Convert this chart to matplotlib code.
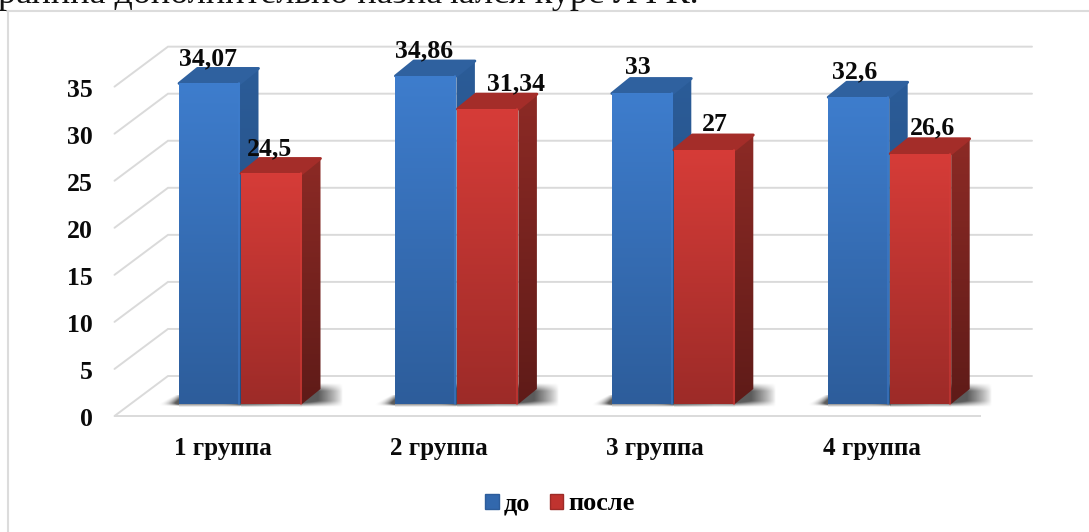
import numpy as np
import matplotlib
matplotlib.use("Agg")
import matplotlib.pyplot as plt
from matplotlib.patches import Polygon, Patch
from matplotlib.lines import Line2D
from matplotlib.colors import LinearSegmentedColormap

categories = ["1 группа", "2 группа", "3 группа", "4 группа"]
before = [34.07, 34.86, 33, 32.6]
after = [24.5, 31.34, 27, 26.6]
before_labels = ["34,07", "34,86", "33", "32,6"]
after_labels = ["24,5", "31,34", "27", "26,6"]
series_names = ["до", "после"]
y_ticks = [0, 5, 10, 15, 20, 25, 30, 35]
caption = "рапина дополнительно назначался курс ЛФК."

W, H = 1089, 532
PX_X = 216.4   # pixels per category
PX_Y = 9.41    # pixels per value unit
X0 = 240.5     # pixel of first category centre
Y0 = 404       # pixel of value 0 on the bars' front plane

# hand placement of the data labels (pixels)
before_shift_x = [-2, -2, -5, -5]
before_shift_y = [-3, -3, -2, -3]
after_shift_x = [-1, 29, 11, 12]
after_shift_y = [-3, -3, -3, -2]

plt.rcParams["font.family"] = ["Liberation Serif", "DejaVu Serif"]
plt.rcParams["font.weight"] = "bold"
fig = plt.figure(figsize=(W / 100, H / 100), dpi=100)
ax = fig.add_axes([0, 0, 1, 1])
ax.set_xlim(-X0 / PX_X, (W - X0) / PX_X)
ax.set_ylim((Y0 - H) / PX_Y, Y0 / PX_Y)
ax.axis("off")

dx = lambda px: px / PX_X
dy = lambda px: px / PX_Y
GRID = "#dadada"
INK = "#0a0a0a"
bar_w = dx(61)
gap = dx(0.5)
dep_x, dep_y = dx(18.5), dy(15)

# frame (left and top edges) and the clipped sentence above it
fig.add_artist(Line2D([7.5 / W, 7.5 / W], [0, 1 - 11 / H], color="#dcdcdc", lw=1.5))
fig.add_artist(Line2D([7 / W, 1], [1 - 11 / H] * 2, color="#dcdcdc", lw=1.5))
fig.text(-2 / W, 1 - 3 / H, caption, fontsize=26, fontweight="normal",
         family=["Liberation Serif"], color="#111111", va="baseline", ha="left")

# gridlines: wall + floor, value-based
fl_x0, fl_x1 = (114.5 - X0) / PX_X, (980 - X0) / PX_X
back_x0, back_x1 = (168 - X0) / PX_X, (1032 - X0) / PX_X
front_off, back_off = dy(-12), dy(28)
for t in y_ticks:
    ax.plot([fl_x0, back_x0, back_x1], [t + front_off, t + back_off, t + back_off],
            color=GRID, lw=1.4, zorder=1, solid_capstyle="round", solid_joinstyle="miter")
    ax.text(fl_x0 - dx(22), t + front_off - dy(3.5), str(t), ha="right", va="center", fontsize=18.5,
            family=["Liberation Serif"], fontweight="bold", color=INK, zorder=8)
ax.plot([fl_x0, fl_x1], [front_off] * 2, color=GRID, lw=1.4, zorder=1)


def grad_poly(pts, top, bottom, z):
    poly = Polygon(pts, closed=True, fc="none", ec="none", zorder=z)
    ax.add_patch(poly)
    xs, ys = zip(*pts)
    cmap = LinearSegmentedColormap.from_list("g", [top, bottom])
    g = np.linspace(0, 1, 128)[:, None]
    im = ax.imshow(g, cmap=cmap, extent=(min(xs), max(xs), min(ys), max(ys)), origin="upper",
                   aspect="auto", zorder=z, interpolation="bilinear", vmin=0, vmax=1)
    im.set_clip_path(poly)


def soft(x0, x1, y0, y1, alpha_fn):
    """soft grey floor shadow as an RGBA image"""
    u, v = np.meshgrid(np.linspace(0, 1, 80), np.linspace(0, 1, 50))
    rgba = np.zeros((50, 80, 4))
    rgba[..., :3] = 0.36
    rgba[..., 3] = np.clip(alpha_fn(u, v), 0, 1)
    ax.imshow(rgba, extent=(x0, x1, y0, y1), origin="lower", aspect="auto", zorder=2,
              interpolation="bilinear")


def shadow(x, w):
    # right of the bar: fades out to the right and towards its rim
    soft(x + w, x + w + dep_x + dx(22), dy(-3), dep_y + dy(6),
         lambda u, v: 1.5 * (1 - u) ** 0.8 * np.minimum(v * 4, 1) * np.minimum((1 - v) * 3, 1))
    # left of the bar: a small wedge
    soft(x - dx(22), x, dy(-2), dy(9),
         lambda u, v: 0.9 * u ** 1.3 * np.minimum(v * 4, 1) * np.clip(1.15 - v - (1 - u), 0, 1) * 2)
    # under the bar
    soft(x, x + w, dy(-3), 0, lambda u, v: 0.7 * v)


def bar3d(x, v, w, face, z):
    f_top, f_bot, s_top, s_bot, t_col = face
    shadow(x, w)
    grad_poly([(x + w, 0), (x + w, v), (x + w + dep_x, v + dep_y), (x + w + dep_x, dep_y)],
              s_top, s_bot, z + 0.1)
    ax.add_patch(Polygon([(x, v), (x + dep_x, v + dep_y), (x + w + dep_x, v + dep_y), (x + w, v)],
                         closed=True, fc=t_col, ec=t_col, lw=2, joinstyle="round", zorder=z + 0.1))
    grad_poly([(x, 0), (x, v), (x + w, v), (x + w, 0)], f_top, f_bot, z + 0.2)
    ax.plot([x + w - dx(1), x + w - dx(1)], [0, v], color=f_top, lw=1.5, alpha=.5, zorder=z + 0.3)


BLUE = ("#3e7dcd", "#2d5d9b", "#2b5c98", "#234b7c", "#2f619f")
RED = ("#d63c38", "#9d2b28", "#8c2a25", "#5f1b18", "#a42d29")

for i, (a, b) in enumerate(zip(before, after)):
    bar3d(i - bar_w - gap, a, bar_w, BLUE, 3)
    bar3d(i + gap, b, bar_w, RED, 4)
    ax.text(i - bar_w / 2 + dx(before_shift_x[i]), a + dep_y + dy(1.5 + before_shift_y[i]), before_labels[i],
            ha="center", va="bottom", fontsize=18.5, color=INK, zorder=9, family=["Liberation Serif"])
    ax.text(i + bar_w / 2 + dx(after_shift_x[i]), b + dep_y + dy(1.5 + after_shift_y[i]), after_labels[i],
            ha="center", va="bottom", fontsize=18.5, color=INK, zorder=9, family=["Liberation Serif"])
    ax.text(i - dx(18), dy(-44), categories[i], ha="center", va="center", fontsize=18,
            color=INK, zorder=9, family=["Liberation Serif"])

handles = [Patch(fc="#3268ad", ec="#2d5d9b"), Patch(fc="#c0332f", ec="#9d2b28")]
leg = ax.legend(handles, series_names, loc="center", bbox_to_anchor=(560 / W, 1 - 504 / H),
                bbox_transform=fig.transFigure, ncol=2, frameon=False, fontsize=19,
                handlelength=0.53, handleheight=0.5, handletextpad=0.2, columnspacing=0.72)

fig.savefig("out.png", dpi=100)
